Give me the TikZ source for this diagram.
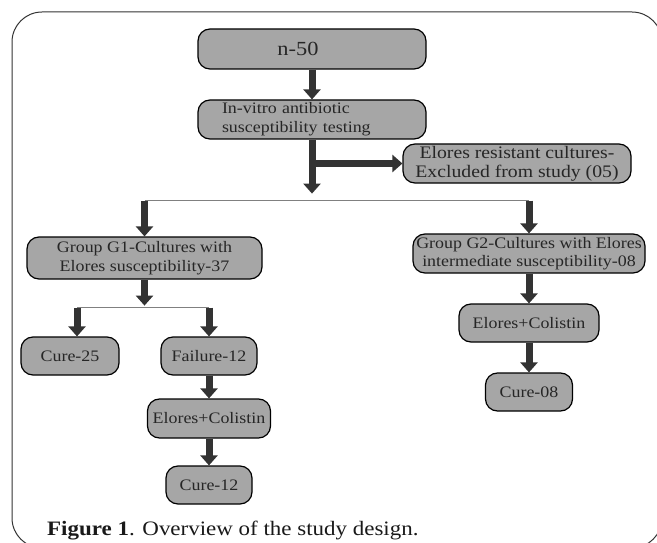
\documentclass[tikz,border=0pt]{standalone}
\usepackage{fontspec}
\setmainfont{Liberation Serif}[FakeStretch=1.12]
\usepackage{tikz}
\usetikzlibrary{arrows.meta}
\definecolor{boxgray}{HTML}{A6A6A6}
\definecolor{arrowgray}{HTML}{333333}
\definecolor{linegray}{HTML}{808080}
\definecolor{textgray}{HTML}{262626}
\tikzstyle{process} = [rectangle, rounded corners=12pt, draw=black, line width=1.2pt, fill=boxgray, text=textgray, align=center, minimum height=39pt, inner sep=0pt, font=\fontsize{16}{19}\selectfont]
\tikzstyle{arrow} = [line width=7pt, draw=arrowgray, -{Triangle[width=17pt,length=10pt]}]
\tikzstyle{splitline} = [line width=1.3pt, draw=linegray]
\tikzstyle{frame} = [line width=1pt, draw=arrowgray, rounded corners=30pt]

\begin{document}
\begin{tikzpicture}
\useasboundingbox (0,0) rectangle (657pt,-543pt);
\begin{scope}
\clip (0,0) rectangle (657pt,-543pt);
\draw [frame] (12pt,-12pt) rectangle (662pt,-548pt);
\end{scope}

% Nodes / blocks
\node (n50) [process, minimum width=228pt, minimum height=40pt, font=\fontsize{20}{22}\selectfont] at (312pt,-49pt) {n-50\hspace*{28pt}};
\node (invitro) [process, node distance=70.5pt, below of=n50, text width=180pt, align=left, minimum width=228pt] {In-vitro antibiotic\\susceptibility testing};
\node (resist) [process, node distance=205pt, right of=invitro, yshift=-44pt, minimum width=228pt, font=\fontsize{17.6}{19}\selectfont] {Elores resistant cultures-\\Excluded from study (05)};
\node (g1) [process, node distance=138.5pt, below of=invitro, xshift=-167.5pt, minimum width=235pt, minimum height=42pt] {Group G1-Cultures with\\Elores susceptibility-37};
\node (g2) [process, node distance=134pt, below of=invitro, xshift=217pt, minimum width=232pt, font=\fontsize{16}{18}\selectfont] {Group G2-Cultures with Elores\\intermediate susceptibility-08};
\node (cure25) [process, node distance=98pt, below of=g1, xshift=-74.5pt, minimum width=98pt, minimum height=38pt] {Cure-25};
\node (fail12) [process, node distance=139pt, right of=cure25, minimum width=96pt, minimum height=38pt] {Failure-12};
\node (colL) [process, node distance=62.5pt, below of=fail12, minimum width=123pt] {Elores+Colistin};
\node (cure12) [process, node distance=66.5pt, below of=colL, minimum width=86pt, minimum height=38pt] {Cure-12};
\node (colR) [process, node distance=69.5pt, below of=g2, minimum width=140pt, minimum height=38pt] {Elores+Colistin};
\node (cure08) [process, node distance=69pt, below of=colR, minimum width=87pt, minimum height=38pt] {Cure-08};
\node (caption) [anchor=base west, inner sep=0pt, text=black!90, font=\fontsize{20.5}{24}\selectfont] at (47pt,-535pt) {\textbf{Figure 1}. Overview of the study design.};

% Split points
\coordinate (mainend) at ([yshift=-54pt]invitro.south);
\coordinate (split) at ([yshift=-61pt]invitro.south);
\coordinate (g1end) at ([yshift=-26pt]g1.south);
\coordinate (split2) at ([yshift=-28pt]g1.south);

% Arrows
\draw [arrow] (n50) -- (invitro);
\draw [arrow] (invitro.south) -- (mainend);
\draw [arrow] (invitro.south |- resist.west) -- (resist.west);
\draw [splitline] (g1.north |- split) -- (g2.north |- split);
\draw [arrow] (g1.north |- split) -- (g1.north);
\draw [arrow] (g2.north |- split) -- (g2.north);
\draw [arrow] (g1.south) -- (g1end);
\draw [splitline] ([xshift=7pt]cure25.north |- split2) -- (fail12.north |- split2);
\draw [arrow] ([xshift=7pt]cure25.north |- split2) -- ([xshift=7pt]cure25.north);
\draw [arrow] (fail12.north |- split2) -- (fail12.north);
\draw [arrow] (fail12) -- (colL);
\draw [arrow] (colL) -- (cure12);
\draw [arrow] (g2) -- (colR);
\draw [arrow] (colR) -- (cure08);

\end{tikzpicture}
\end{document}
